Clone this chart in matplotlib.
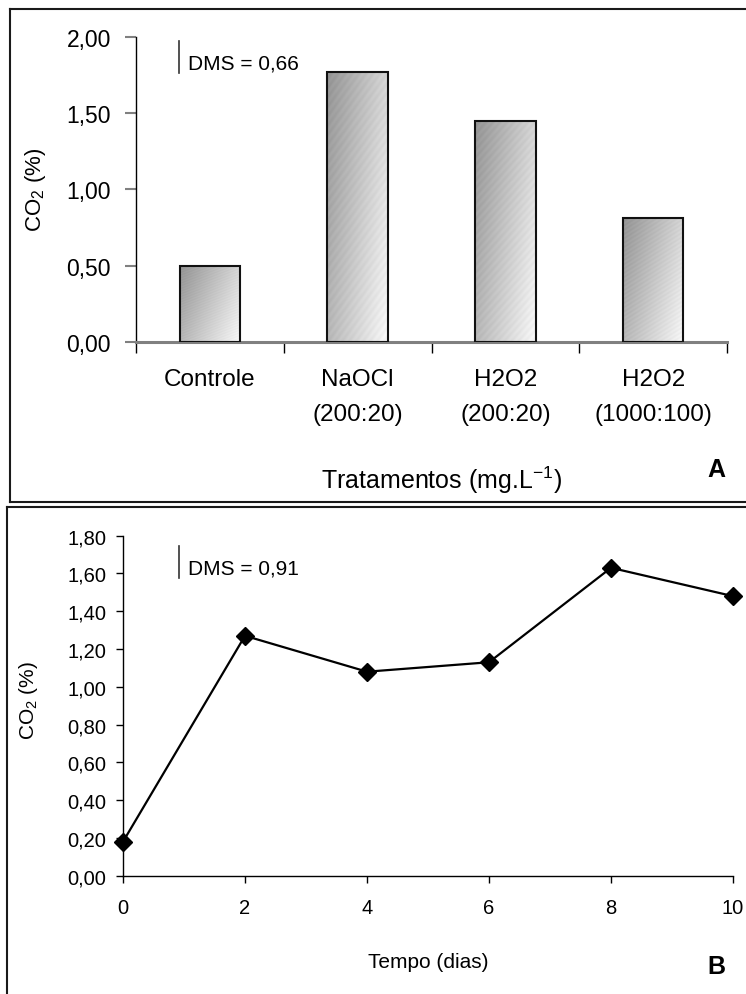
import matplotlib
matplotlib.use("Agg")
import matplotlib.pyplot as plt
import matplotlib.transforms as mtransforms
from matplotlib.lines import Line2D
import numpy as np

plt.rcParams['font.family'] = ['Liberation Sans', 'DejaVu Sans']
plt.rcParams['mathtext.fontset'] = 'custom'
plt.rcParams['mathtext.rm'] = 'Liberation Sans'
plt.rcParams['mathtext.it'] = 'Liberation Sans:italic'

# data
tratamentos = ["Controle", "NaOCl\n(200:20)", "H2O2\n(200:20)", "H2O2\n(1000:100)"]
co2_trat = [0.50, 1.77, 1.45, 0.81]
yticks_a = [0.0, 0.5, 1.0, 1.5, 2.0]

dias = [0, 2, 4, 6, 8, 10]
co2_tempo = [0.18, 1.27, 1.08, 1.13, 1.63, 1.48]
yticks_b = [0.0, 0.2, 0.4, 0.6, 0.8, 1.0, 1.2, 1.4, 1.6, 1.8]

W, H = 746, 995
fig = plt.figure(figsize=(W / 100, H / 100), dpi=100)


def fx(px):
    return px / W


def fy(py):
    return 1 - py / H


def comma(v):
    return f"{v:.2f}".replace(".", ",")


# ---------- panel A ----------
ax1 = fig.add_axes([fx(136), fy(343), (727 - 136) / W, (343 - 37.5) / H])
bars = ax1.bar(range(len(co2_trat)), co2_trat, width=0.41, color='none',
               edgecolor='#111111', linewidth=1.5, zorder=3)

# gradient fill (dark top-left -> light bottom-right) with faint diagonal streaks
gy, gx = np.mgrid[0:1:200j, 0:1:60j]
grad = 0.58 + 0.39 * (0.65 * gx + 0.35 * gy)
grad = grad + 0.015 * np.sin((gx * 60 + gy * 200) * 0.9)
grad = np.clip(grad, 0, 1)
for b in bars:
    x0, y0 = b.get_x(), b.get_y()
    im = ax1.imshow(grad, cmap='gray', vmin=0, vmax=1, origin='upper',
                    extent=[x0, x0 + b.get_width(), y0, y0 + b.get_height()],
                    aspect='auto', zorder=2, interpolation='bilinear')
    im.set_clip_path(b)

ax1.set_xlim(-0.5, len(co2_trat) - 0.5)
ax1.set_ylim(0, 2)
ax1.set_yticks(yticks_a)
ax1.set_yticklabels([comma(v) for v in yticks_a])
ax1.set_xticks(np.arange(-0.5, len(co2_trat), 1.0))
ax1.set_xticklabels([])
ax1.tick_params(axis='both', direction='out', length=8, width=1, colors='black')
ax1.tick_params(axis='y', pad=10, labelsize=16.5, color='#808080', width=1.5)
for s in ['top', 'right']:
    ax1.spines[s].set_visible(False)
ax1.spines['left'].set_linewidth(1)
ax1.spines['bottom'].set_color('#808080')
ax1.spines['bottom'].set_linewidth(2.2)

trans = mtransforms.blended_transform_factory(ax1.transData, ax1.transAxes)
line_y = [(343 - 380) / (343 - 37.5), (343 - 415) / (343 - 37.5)]
for i, lab in enumerate(tratamentos):
    for j, part in enumerate(lab.split("\n")):
        ax1.text(i, line_y[j], part, transform=trans, ha='center', va='center',
                 fontsize=17.5, clip_on=False)

fig.text(fx(441), fy(480), r'Tratamentos (mg.L$^{-1}$)', ha='center', va='center',
         fontsize=18)
fig.text(fx(36), fy(190), r'CO$_2$ (%)', rotation=90, ha='center', va='center',
         fontsize=16)
fig.add_artist(Line2D([fx(179), fx(179)], [fy(42), fy(74)], color='#333333', lw=1.2))
fig.text(fx(188), fy(64), 'DMS = 0,66', ha='left', va='center', fontsize=15)
fig.text(fx(716), fy(470), 'A', ha='center', va='center', fontsize=18,
         fontweight='bold')

# ---------- panel B ----------
ax2 = fig.add_axes([fx(123), fy(876.7), 610 / W, 340 / H])
ax2.plot(dias, co2_tempo, color='black', lw=1.6, marker='D', markersize=9,
         clip_on=False, zorder=5)
ax2.set_xlim(0, 10)
ax2.set_ylim(0, 1.8)
ax2.set_xticks(dias)
ax2.set_yticks(yticks_b)
ax2.set_yticklabels([comma(v) for v in yticks_b])
ax2.tick_params(axis='both', direction='out', length=5, width=1, labelsize=14.5)
ax2.tick_params(axis='x', pad=11)
ax2.tick_params(axis='y', pad=7)
for s in ['top', 'right']:
    ax2.spines[s].set_visible(False)
for s in ['left', 'bottom']:
    ax2.spines[s].set_linewidth(1)

fig.text(fx(428), fy(963), 'Tempo (dias)', ha='center', va='center', fontsize=15)
fig.text(fx(29), fy(700), r'CO$_2$ (%)', rotation=90, ha='center', va='center',
         fontsize=15)
fig.add_artist(Line2D([fx(179), fx(179)], [fy(547), fy(579)], color='#333333', lw=1.2))
fig.text(fx(188), fy(569), 'DMS = 0,91', ha='left', va='center', fontsize=15)
fig.text(fx(716), fy(967), 'B', ha='center', va='center', fontsize=18,
         fontweight='bold')

# panel frames
frame = dict(color='#1a1a1a', lw=1.5)
fig.add_artist(Line2D([fx(9.5), 1], [fy(10), fy(10)], **frame))
fig.add_artist(Line2D([fx(9.5), fx(9.5)], [fy(10), fy(503)], **frame))
fig.add_artist(Line2D([fx(9.5), 1], [fy(503), fy(503)], **frame))
fig.add_artist(Line2D([fx(7), 1], [fy(508), fy(508)], **frame))
fig.add_artist(Line2D([fx(7), fx(7)], [fy(508), 0], **frame))

fig.savefig("out.png", dpi=100)
